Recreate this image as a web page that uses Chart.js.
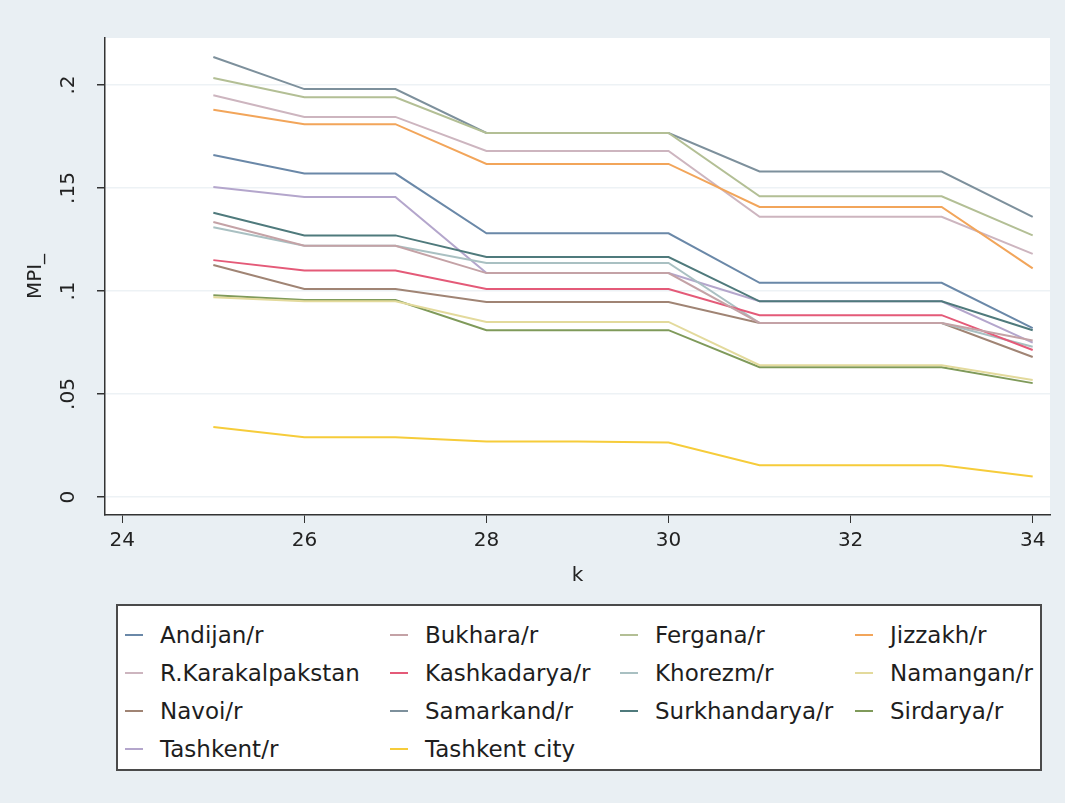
<!DOCTYPE html>
<html>
<head>
<meta charset="utf-8">
<script src="https://cdn.jsdelivr.net/npm/chart.js@4.4.0/dist/chart.umd.min.js"></script>
<style>
  body { margin: 0; background: #e9eff3; font-family: "DejaVu Sans", sans-serif; }
  #wrap { position: absolute; left: 0; top: 0; width: 1065px; height: 600px; }
  #legend {
    position: absolute; left: 116px; top: 604px; width: 926px; height: 167px;
    background: #fff; border: 2px solid #4a4a4a; box-sizing: border-box;
    display: grid; grid-template-columns: 265px 230px 235px auto;
    grid-auto-rows: 38px; padding: 10px 0 0 7px;
  }
  .item { display: flex; align-items: center; font-size: 23px; color: #1e1e1e; white-space: nowrap; }
  .sw { width: 18px; height: 2px; margin-right: 17px; flex: none; }
</style>
</head>
<body>
<div id="wrap"><canvas id="mpi"></canvas></div>
<div id="legend"></div>
<script>
const kValues = [25, 26, 27, 28, 29, 30, 31, 32, 33, 34];
const xTicks = [24, 26, 28, 30, 32, 34];
const yTicks = [0, 0.05, 0.1, 0.15, 0.2];

const regions = ['Andijan/r', 'Bukhara/r', 'Fergana/r', 'Jizzakh/r',
  'R.Karakalpakstan', 'Kashkadarya/r', 'Khorezm/r', 'Namangan/r',
  'Navoi/r', 'Samarkand/r', 'Surkhandarya/r', 'Sirdarya/r',
  'Tashkent/r', 'Tashkent city'];

const andijan = [0.166, 0.157, 0.157, 0.128, 0.128, 0.128, 0.104, 0.104, 0.104, 0.082];
const bukhara = [0.1335, 0.122, 0.122, 0.1087, 0.1087, 0.1087, 0.0845, 0.0845, 0.0845, 0.076];
const fergana = [0.2034, 0.194, 0.194, 0.1767, 0.1767, 0.1767, 0.146, 0.146, 0.146, 0.127];
const jizzakh = [0.188, 0.181, 0.181, 0.1617, 0.1617, 0.1617, 0.1408, 0.1408, 0.1408, 0.111];
const karakalpakstan = [0.195, 0.1845, 0.1845, 0.168, 0.168, 0.168, 0.136, 0.136, 0.136, 0.118];
const kashkadarya = [0.115, 0.110, 0.110, 0.101, 0.101, 0.101, 0.0883, 0.0883, 0.0883, 0.0714];
const khorezm = [0.131, 0.122, 0.122, 0.1136, 0.1136, 0.1136, 0.0845, 0.0845, 0.0845, 0.073];
const namangan = [0.097, 0.095, 0.095, 0.085, 0.085, 0.085, 0.064, 0.064, 0.064, 0.0568];
const navoi = [0.1126, 0.101, 0.101, 0.0947, 0.0947, 0.0947, 0.0845, 0.0845, 0.0845, 0.068];
const samarkand = [0.2136, 0.198, 0.198, 0.1767, 0.1767, 0.1767, 0.158, 0.158, 0.158, 0.136];
const surkhandarya = [0.138, 0.127, 0.127, 0.1165, 0.1165, 0.1165, 0.095, 0.095, 0.095, 0.081];
const sirdarya = [0.098, 0.0956, 0.0956, 0.081, 0.081, 0.081, 0.063, 0.063, 0.063, 0.0553];
const tashkentR = [0.1505, 0.1456, 0.1456, 0.1087, 0.1087, 0.1087, 0.095, 0.095, 0.095, 0.075];
const tashkentCity = [0.034, 0.029, 0.029, 0.027, 0.027, 0.0265, 0.0155, 0.0155, 0.0155, 0.010];

const seriesValues = [andijan, bukhara, fergana, jizzakh, karakalpakstan, kashkadarya,
  khorezm, namangan, navoi, samarkand, surkhandarya, sirdarya, tashkentR, tashkentCity];

const colors = ['#6a88a8', '#c4a2a6', '#b3bf95', '#f2a55a', '#cdb5bf', '#e45a78',
  '#a9c0c2', '#e3da9c', '#a08474', '#7d909c', '#4f7a7c', '#7f9a5a', '#b4a6cc', '#f6cc3a'];

// white plot region on the light blue page
const plotBg = {
  id: 'plotBg',
  beforeDraw(chart) {
    const a = chart.chartArea, c = chart.ctx;
    c.save();
    c.fillStyle = '#ffffff';
    c.fillRect(a.left, a.top, a.right - a.left, a.bottom - a.top);
    c.restore();
  }
};

const tickFont = { family: '"DejaVu Sans", sans-serif', size: 20 };

new Chart(document.getElementById('mpi'), {
  type: 'line',
  data: {
    datasets: regions.map((name, i) => ({
      label: name,
      data: kValues.map((k, j) => ({ x: k, y: seriesValues[i][j] })),
      borderColor: colors[i],
      borderWidth: 2,
      pointRadius: 0,
      tension: 0,
      fill: false
    }))
  },
  options: {
    responsive: true,
    maintainAspectRatio: false,
    animation: false,
    layout: { padding: { top: 38, right: 15, left: 0, bottom: 0 } },
    plugins: { legend: { display: false }, tooltip: { enabled: false } },
    scales: {
      x: {
        type: 'linear',
        min: 23.81,
        max: 34.19,
        afterBuildTicks: s => { s.ticks = xTicks.map(v => ({ value: v })); },
        afterFit: s => { s.height = 85; },
        border: { color: '#333', width: 1.5 },
        grid: { drawOnChartArea: false, tickLength: 8, tickColor: '#333' },
        ticks: { font: tickFont, color: '#222', padding: 6, maxRotation: 0 },
        title: { display: true, text: 'k', font: tickFont, color: '#222', padding: { top: 4, bottom: 12 } }
      },
      y: {
        min: -0.0087,
        max: 0.2228,
        afterBuildTicks: s => { s.ticks = yTicks.map(v => ({ value: v })); },
        afterFit: s => { s.width = 105; },
        border: { color: '#333', width: 1.5 },
        grid: { color: '#edf2f5', lineWidth: 1.5, tickLength: 8, tickColor: '#333' },
        ticks: {
          font: tickFont, color: '#222', padding: 12,
          minRotation: 90, maxRotation: 90, crossAlign: 'center',
          callback: v => v === 0 ? '0' : String(v).replace(/^0/, '')
        },
        title: { display: true, text: 'MPI_', font: tickFont, color: '#222', padding: { top: 24, bottom: 0 } }
      }
    }
  },
  plugins: [plotBg]
});

const legend = document.getElementById('legend');
regions.forEach((name, i) => {
  const item = document.createElement('div');
  item.className = 'item';
  const sw = document.createElement('span');
  sw.className = 'sw';
  sw.style.background = colors[i];
  item.appendChild(sw);
  item.appendChild(document.createTextNode(name));
  legend.appendChild(item);
});
</script>
</body>
</html>
